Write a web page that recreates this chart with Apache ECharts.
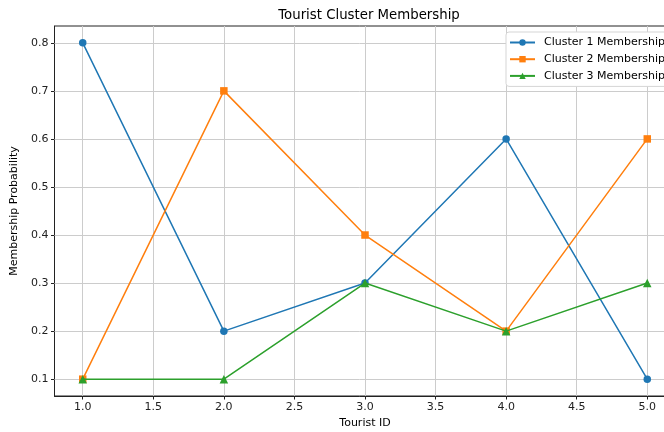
<!DOCTYPE html>
<html><head><meta charset="utf-8">
<script src="https://cdn.jsdelivr.net/npm/echarts@6/dist/echarts.min.js"></script>
<style>html,body{margin:0;padding:0;background:#fff}#c{width:664px;height:432px}</style>
</head><body><div id="c"></div>
<script>
const touristIds = [1, 2, 3, 4, 5];
const cluster1 = [0.8, 0.2, 0.3, 0.6, 0.1];
const cluster2 = [0.1, 0.7, 0.4, 0.2, 0.6];
const cluster3 = [0.1, 0.1, 0.3, 0.2, 0.3];
const xTicks = [1.0, 1.5, 2.0, 2.5, 3.0, 3.5, 4.0, 4.5, 5.0];
const yTicks = [0.1, 0.2, 0.3, 0.4, 0.5, 0.6, 0.7, 0.8];
const seriesNames = ['Cluster 1 Membership', 'Cluster 2 Membership', 'Cluster 3 Membership'];
const colors = ['#1f77b4', '#ff7f0e', '#2ca02c'];
const symbols = ['circle', 'rect', 'triangle'];

const font = 'DejaVu Sans';
const chart = echarts.init(document.getElementById('c'));
const lineSeries = [cluster1, cluster2, cluster3].map((vals, i) => ({
  name: seriesNames[i],
  type: 'line',
  data: touristIds.map((x, j) => [x, vals[j]]),
  symbol: symbols[i],
  symbolSize: i === 2 ? 8.5 : 7.5,
  color: colors[i],
  lineStyle: {width: 1.5, color: colors[i]},
  itemStyle: {color: colors[i], borderColor: colors[i], borderWidth: 0},
  emphasis: {disabled: true},
  z: 3 + i,
  animation: false
}));
chart.setOption({
  animation: false,
  title: {text: 'Tourist Cluster Membership', left: 364, textAlign: 'center', top: 4,
    textStyle: {fontFamily: font, fontSize: 13.3, fontWeight: 'normal', color: '#000'}},
  legend: {orient: 'vertical', left: 506, top: 32, data: seriesNames,
    backgroundColor: '#fff', borderColor: '#d5d5d5', borderWidth: 1, borderRadius: 3,
    padding: [5, 6, 5, 3], itemGap: 5.7, itemWidth: 25, itemHeight: 8,
    textStyle: {fontFamily: font, fontSize: 11, color: '#000', padding: [0, 0, 0, 4]}},
  grid: {left: 54.5, top: 26, width: 621, height: 370, outerBoundsMode: 'none', containLabel: false,
    show: true, borderColor: '#222', borderWidth: 1, backgroundColor: 'transparent'},
  xAxis: {type: 'value', min: 0.8, max: 5.2,
    name: 'Tourist ID', nameLocation: 'middle', nameGap: 22,
    nameTextStyle: {fontFamily: font, fontSize: 11, color: '#000'},
    axisLine: {show: true, onZero: false, lineStyle: {color: '#222', width: 1}},
    axisTick: {show: true, customValues: xTicks, length: 3.5, lineStyle: {color: '#222'}},
    axisLabel: {customValues: xTicks, formatter: v => v.toFixed(1), fontFamily: font, fontSize: 11, color: '#222', margin: 6},
    splitLine: {show: false}},
  yAxis: {type: 'value', min: 0.065, max: 0.835,
    name: 'Membership Probability', nameLocation: 'middle', nameGap: 33,
    nameTextStyle: {fontFamily: font, fontSize: 11, color: '#000'},
    axisLine: {show: true, onZero: false, lineStyle: {color: '#222', width: 1}},
    axisTick: {show: true, customValues: yTicks, length: 3.5, lineStyle: {color: '#222'}},
    axisLabel: {customValues: yTicks, formatter: v => v.toFixed(1), fontFamily: font, fontSize: 11, color: '#222', margin: 6},
    splitLine: {show: false}},
  series: [
    {type: 'line', data: [], silent: true, z: 1,
      markLine: {silent: true, z: 1, symbol: 'none', label: {show: false}, animation: false,
        lineStyle: {color: '#cccccc', width: 1, type: 'solid'},
        data: xTicks.map(v => ({xAxis: v})).concat(yTicks.map(v => ({yAxis: v})))}}
  ].concat(lineSeries)
});
</script></body></html>
